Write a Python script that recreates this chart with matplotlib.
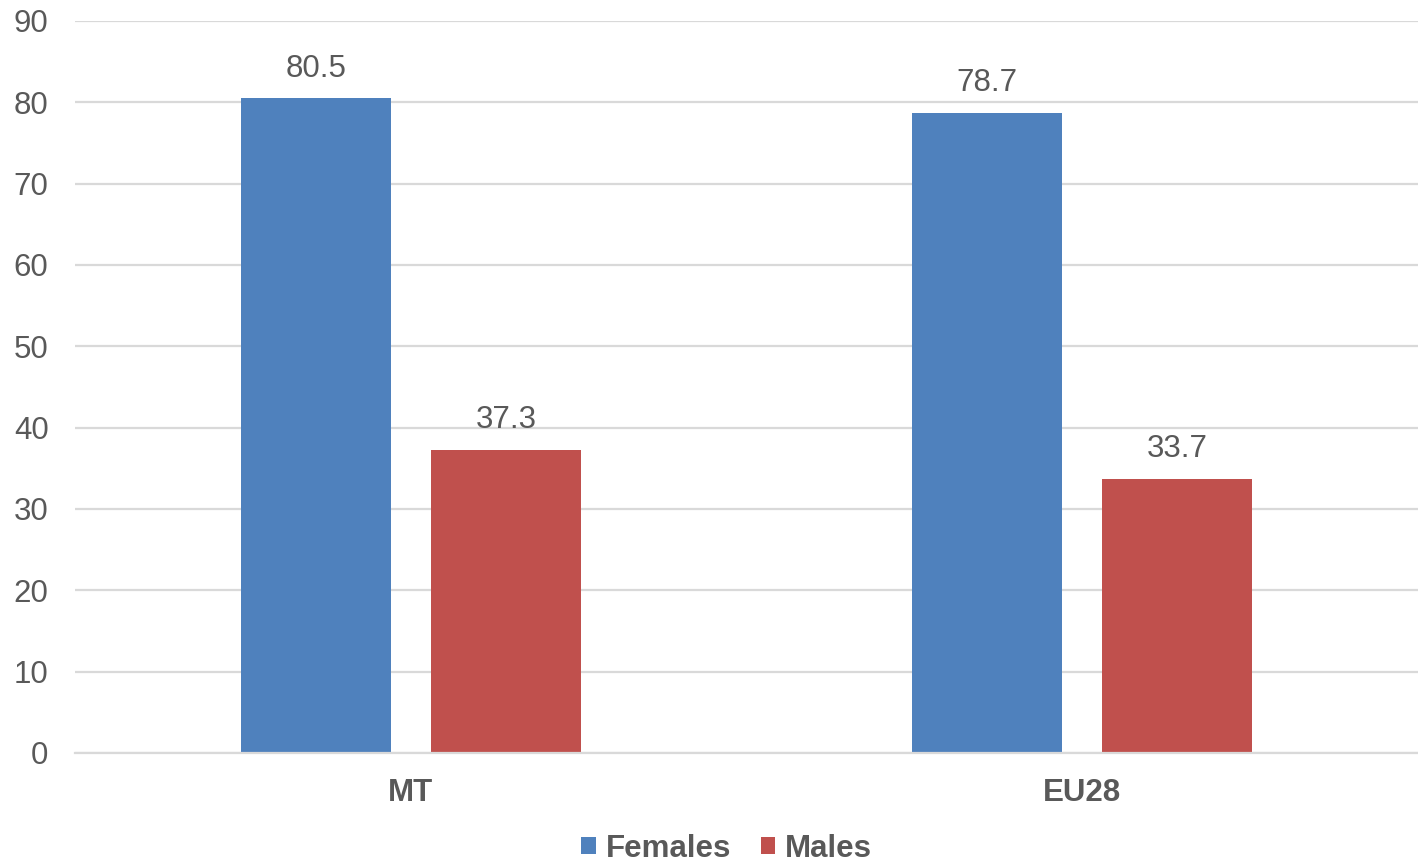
import matplotlib
matplotlib.use("Agg")
import matplotlib.pyplot as plt
import numpy as np

categories = ["MT", "EU28"]
series_names = ["Females", "Males"]
females = [80.5, 78.7]
males = [37.3, 33.7]
y_ticks = [0, 10, 20, 30, 40, 50, 60, 70, 80, 90]

colors = ["#4F81BD", "#C0504D"]
text_color = "#595959"
grid_color = "#D9D9D9"
fs = 22.5

plt.rcParams["font.family"] = ["Liberation Sans", "DejaVu Sans"]

fig = plt.figure(figsize=(14.18, 8.65), dpi=100)
ax = fig.add_axes([75 / 1418, 1 - 753 / 865, 1 - 75 / 1418, (753 - 21) / 865])

x = np.arange(len(categories))
width = 0.2235
gap = 0.0596
offsets = [-(width + gap) / 2, (width + gap) / 2]

for vals, name, col, off in zip([females, males], series_names, colors, offsets):
    bars = ax.bar(x + off, vals, width, color=col, label=name, zorder=3)
    for b, v in zip(bars, vals):
        ax.annotate(f"{v:.1f}", (b.get_x() + b.get_width() / 2, v),
                    xytext=(0, 10.5), textcoords="offset points",
                    ha="center", va="bottom", fontsize=fs, color=text_color)

ax.set_xlim(-0.5, len(categories) - 0.5)
ax.set_ylim(0, 90)
ax.set_yticks(y_ticks)
ax.set_xticks(x)
ax.set_xticklabels(categories, fontweight="bold")
ax.tick_params(axis="y", length=0, pad=19, labelsize=fs, labelcolor=text_color)
ax.tick_params(axis="x", length=0, pad=18, labelsize=fs, labelcolor=text_color)
ax.yaxis.grid(True, color=grid_color, linewidth=1.6, zorder=0)
ax.set_axisbelow(True)
for side in ["top", "right", "left"]:
    ax.spines[side].set_visible(False)
ax.spines["bottom"].set_color(grid_color)
ax.spines["bottom"].set_linewidth(1.6)
ax.spines["bottom"].set_zorder(4)

leg = fig.legend(loc="center", bbox_to_anchor=(0.5124, 1 - 849 / 865),
                 ncol=2, frameon=False, handlelength=0.45, handleheight=0.45,
                 handletextpad=0.32, columnspacing=0.95,
                 prop={"size": fs, "weight": "bold"})
for t in leg.get_texts():
    t.set_color(text_color)

fig.savefig("out.png", dpi=100)
